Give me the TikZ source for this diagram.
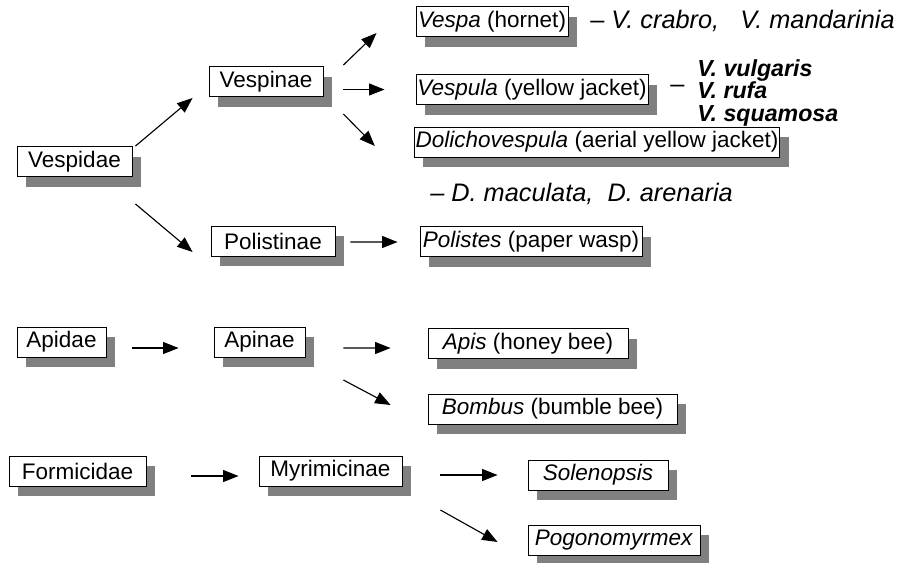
\documentclass[tikz,border=0pt]{standalone}
\usepackage{fontspec}
\setmainfont{Liberation Sans}
\usetikzlibrary{arrows.meta, shadows}
\newcommand{\pxu}{0.025cm}

\begin{document}
\begin{tikzpicture}[
  x=0.025cm, y=-0.025cm,
  tbox/.style={draw, fill=white, line width=0.6pt, minimum height=30*\pxu, inner xsep=1pt, inner ysep=0pt,
    font=\fontsize{16}{18}\selectfont,
    drop shadow={shadow xshift=9*\pxu, shadow yshift=-10*\pxu, fill=black!50, opacity=1}},
  lbl/.style={anchor=west, inner sep=0pt, font=\fontsize{18}{20}\selectfont\itshape},
  arr/.style={-{Triangle[length=11pt, width=8.5pt]}, line width=0.8pt}
]
  \useasboundingbox (0,0) rectangle (911,562);

  % Vespidae
  \node[tbox, minimum width=115*\pxu] (vespidae) at (74.5,161.5) {Vespidae};
  \node[tbox, minimum width=114*\pxu] (vespinae) at (266,81.5) {Vespinae};
  \node[tbox, minimum width=124*\pxu] (polistinae) at (273,241) {Polistinae};
  \node[tbox, minimum width=152*\pxu] (vespa) at (492,21.5) {\textit{Vespa} (hornet)};
  \node[tbox, minimum width=232*\pxu] (vespula) at (532,89.5) {\textit{Vespula} (yellow jacket)};
  \node[tbox, minimum width=362*\pxu] (dolicho) at (597,142) {\textit{Dolichovespula} (aerial yellow jacket)};
  \node[tbox, minimum width=222*\pxu] (polistes) at (531,241.5) {\textit{Polistes} (paper wasp)};

  \node[lbl] (vespasp) at (590,21) {– V. crabro,~~~V. mandarinia};
  \node[lbl, font=\fontsize{18}{20}\selectfont] (vespuladash) at (670,89) {–};
  \node[anchor=north west, inner sep=0pt, align=left,
    font=\fontsize{16.5}{16}\selectfont\bfseries\itshape] (vespulasp) at (697,59)
    {V. vulgaris\\V. rufa\\V. squamosa};
  \node[lbl] (dolichosp) at (430,194) {– D. maculata,~~D. arenaria};

  \draw[arr] ([shift={(3,0)}]vespidae.north east) -- ([shift={(-16,16.5)}]vespinae.west);
  \draw[arr] ([shift={(3,27)}]vespidae.south east) -- ([shift={(-18,11)}]polistinae.west);
  \draw[arr] ([shift={(20,-16.5)}]vespinae.east) -- ([shift={(-39,11.5)}]vespa.west);
  \draw[arr] ([shift={(20,0)}]vespinae.east |- vespula.west) -- ([shift={(-31,0)}]vespula.west);
  \draw[arr] ([shift={(20,32.5)}]vespinae.east) -- ([shift={(-39,4)}]dolicho.west);
  \draw[arr] ([shift={(15,1)}]polistinae.east) -- ([shift={(-22,0.5)}]polistes.west);

  % Apidae
  \node[tbox, minimum width=89*\pxu] (apidae) at (61.5,342) {Apidae};
  \node[tbox, minimum width=91*\pxu] (apinae) at (259.5,342) {Apinae};
  \node[tbox, minimum width=200*\pxu] (apis) at (528,343.5) {\textit{Apis} (honey bee)};
  \node[tbox, minimum width=249*\pxu] (bombus) at (552.5,409) {\textit{Bombus} (bumble bee)};

  \draw[arr] ([shift={(26,6)}]apidae.east) -- ([shift={(-35,6)}]apinae.west);
  \draw[arr] ([shift={(38,6)}]apinae.east) -- ([shift={(-37,4.5)}]apis.west);
  \draw[arr] ([shift={(38,38)}]apinae.east) -- ([shift={(-37,-4)}]bombus.west);

  % Formicidae
  \node[tbox, minimum width=137*\pxu] (formicidae) at (77.5,471) {Formicidae};
  \node[tbox, minimum width=143*\pxu] (myrimicinae) at (330.5,471) {Myrimicinae};
  \node[tbox, minimum width=140*\pxu] (solenopsis) at (598,475) {\textit{Solenopsis}};
  \node[tbox, minimum width=172*\pxu] (pogono) at (614,540) {\textit{Pogonomyrmex}};

  \draw[arr] ([shift={(45,5)}]formicidae.east) -- ([shift={(-20,5)}]myrimicinae.west);
  \draw[arr] ([shift={(38,4)}]myrimicinae.east) -- ([shift={(-30,0)}]solenopsis.west);
  \draw[arr] ([shift={(38,39)}]myrimicinae.east) -- ([shift={(-30,2)}]pogono.west);
\end{tikzpicture}
\end{document}
